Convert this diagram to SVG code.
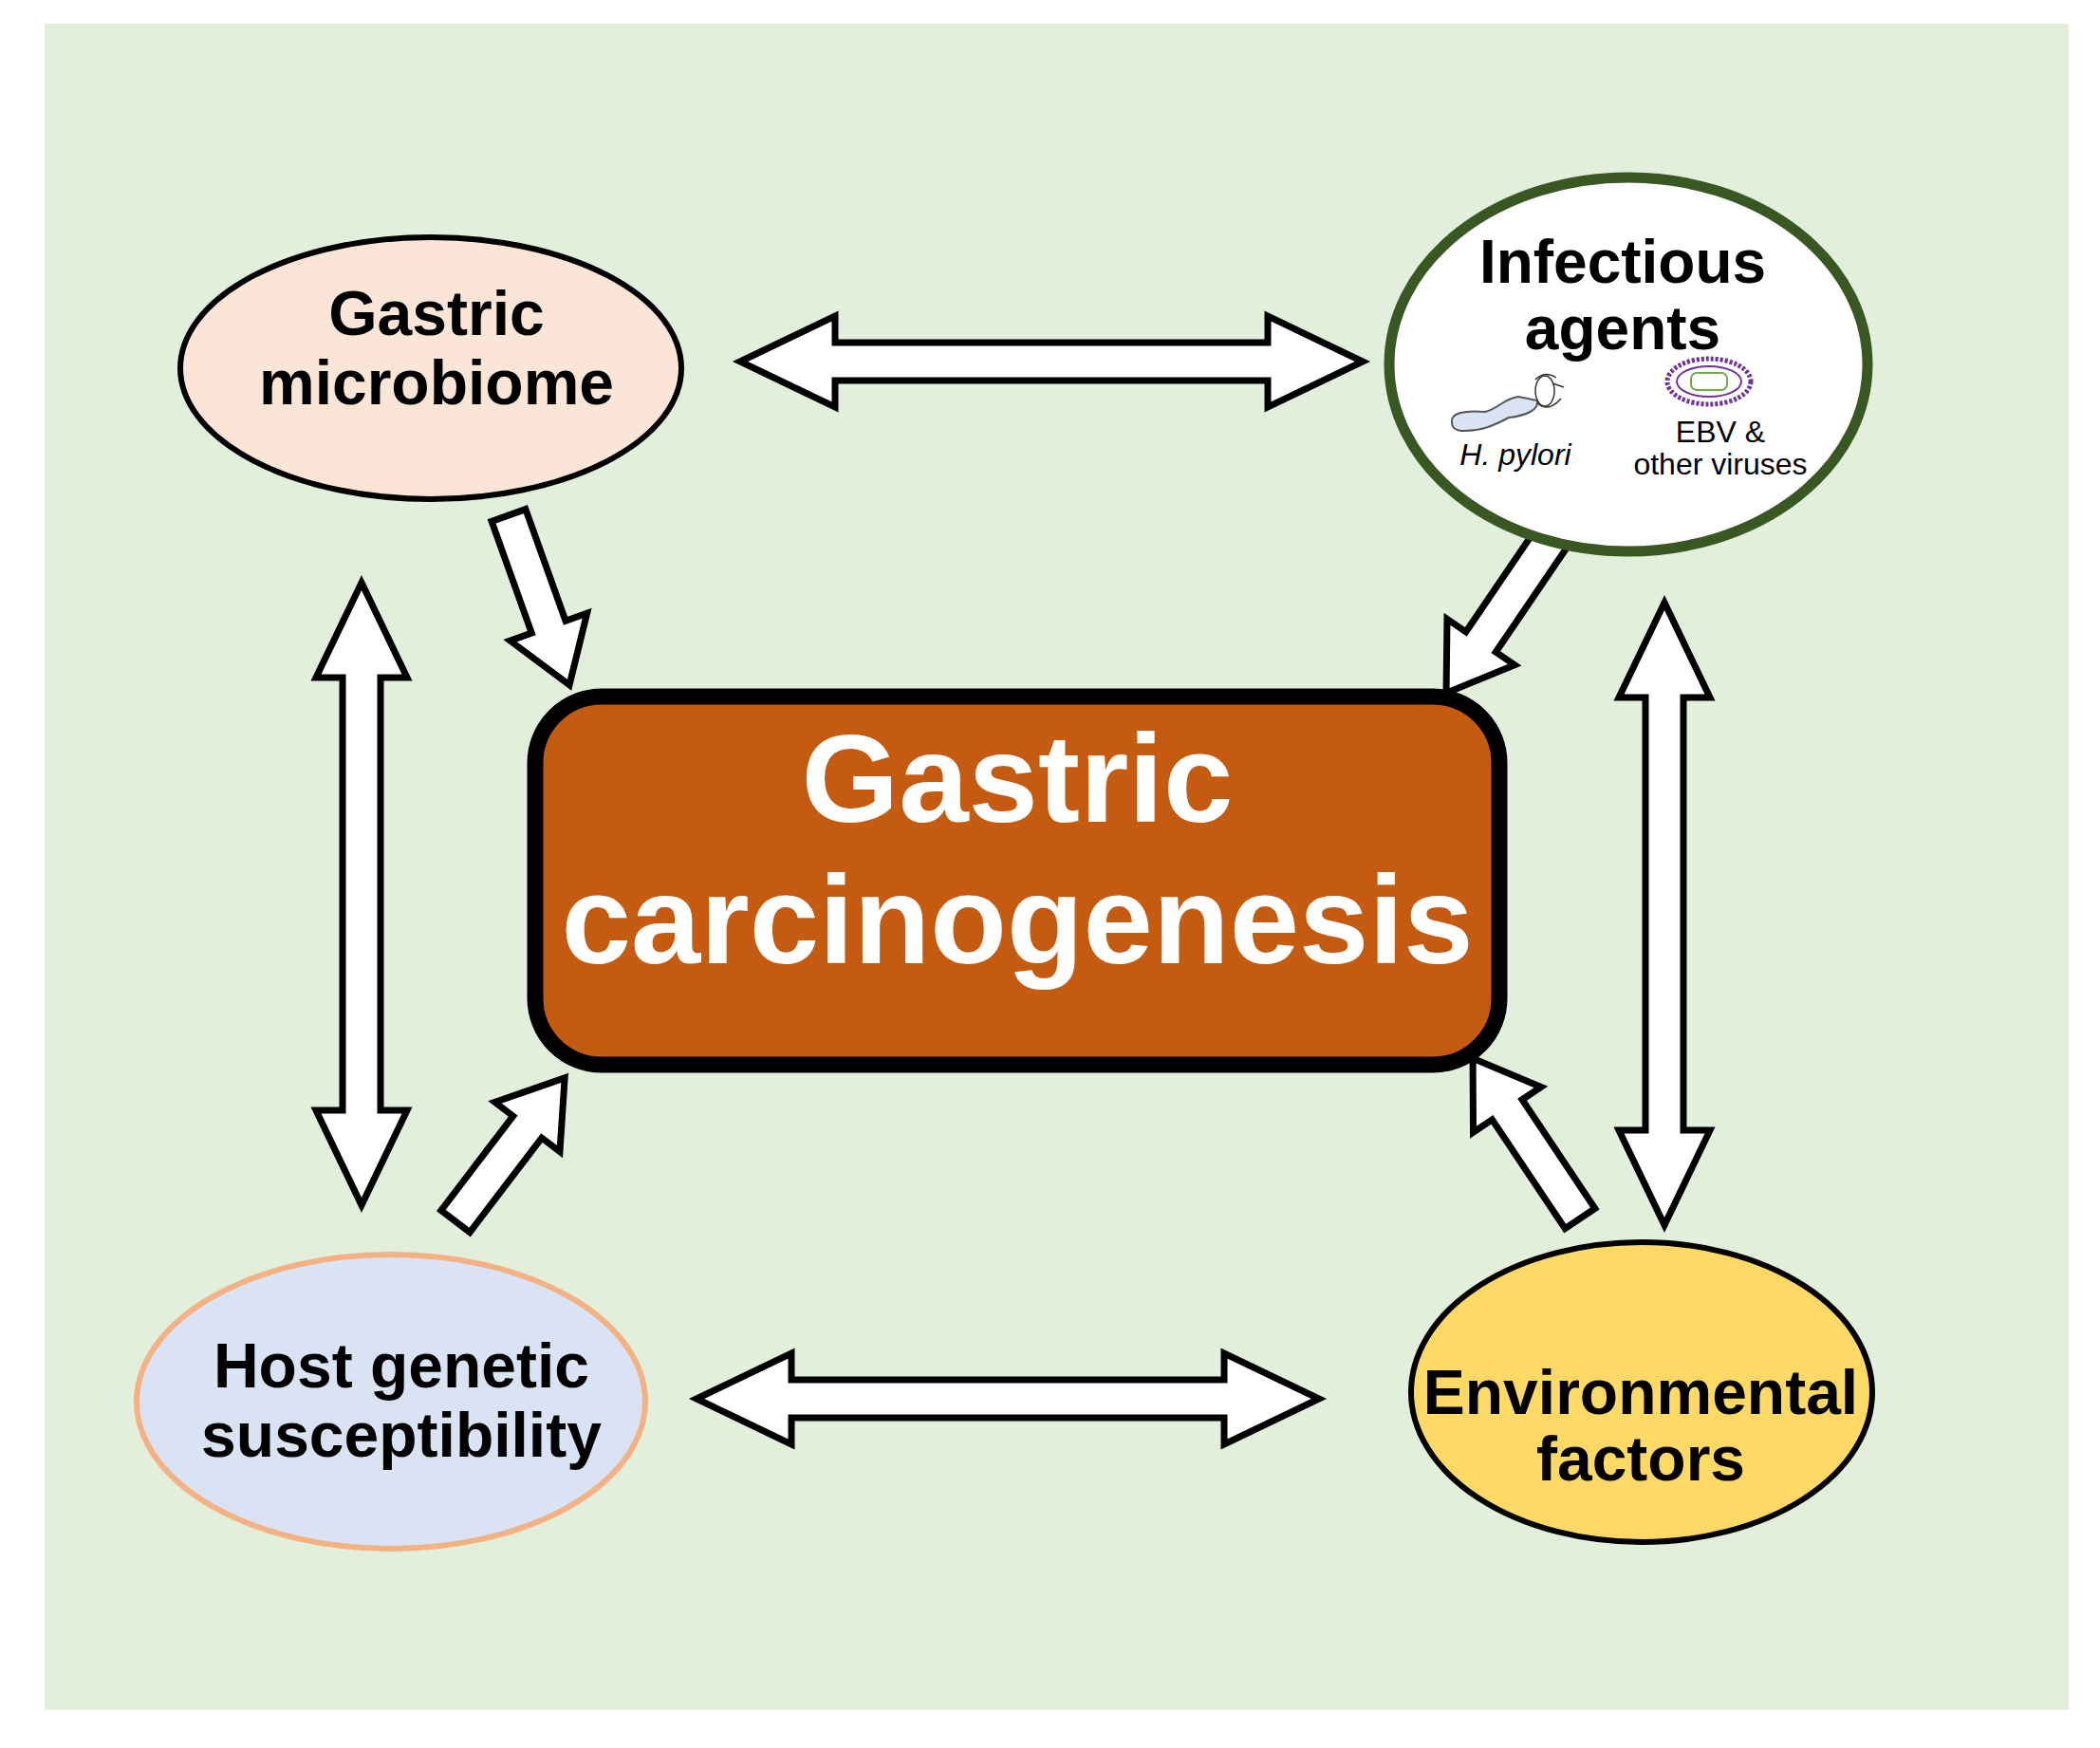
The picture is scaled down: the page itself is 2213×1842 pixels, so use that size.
<svg xmlns="http://www.w3.org/2000/svg" width="2213" height="1842" viewBox="0 0 2213 1842">
<style>
.arr{fill:#fff;stroke:#000;stroke-width:7;stroke-linejoin:miter}
.t{font-family:"Liberation Sans",Arial,sans-serif;font-weight:bold;text-anchor:middle;fill:#000}
.s{font-family:"Liberation Sans",Arial,sans-serif;text-anchor:middle;fill:#000;font-size:32px}
</style>
<rect width="2213" height="1842" fill="#fff"/>
<rect x="47" y="25" width="2133" height="1777" fill="#e2efda"/>
<g id="connectors">
<polygon class="arr" transform="translate(1108,381)" points="-328,0 -228,-48 -228,-20 228,-20 228,-48 328,0 228,48 228,20 -228,20 -228,48"/>
<polygon class="arr" transform="translate(1062,1474)" points="-328,0 -228,-48 -228,-20 228,-20 228,-48 328,0 228,48 228,20 -228,20 -228,48"/>
<polygon class="arr" transform="translate(381,942) rotate(90)" points="-328,0 -228,-48 -228,-20 228,-20 228,-48 328,0 228,48 228,20 -228,20 -228,48"/>
<polygon class="arr" transform="translate(1754,963) rotate(90)" points="-328,0 -228,-48 -228,-20 228,-20 228,-48 328,0 228,48 228,20 -228,20 -228,48"/>
<polygon class="arr" transform="translate(536,543) rotate(70.3)" points="0,-19 125,-19 125,-43 190,0 125,43 125,19 0,19"/>
<polygon class="arr" transform="translate(1637,564) rotate(124.2)" points="0,-19 136,-19 136,-43 201,0 136,43 136,19 0,19"/>
<polygon class="arr" transform="translate(480,1287) rotate(-52.7)" points="0,-19 125,-19 125,-43 190,0 125,43 125,19 0,19"/>
<polygon class="arr" transform="translate(1665,1284) rotate(-123.8)" points="0,-19 138,-19 138,-43 203,0 138,43 138,19 0,19"/>
</g>
<g id="center">
<rect x="564" y="734" width="1016" height="388" rx="70" fill="#c55a11" stroke="#000" stroke-width="17"/>
<text class="t" x="1072" y="866" font-size="132" style="fill:#fff">Gastric</text>
<text class="t" x="1072" y="1015" font-size="132" style="fill:#fff">carcinogenesis</text>
</g>
<g id="microbiome">
<ellipse cx="454" cy="388" rx="264" ry="138" fill="#fbe5d6" stroke="#000" stroke-width="6"/>
<text class="t" x="460" y="353" font-size="66">Gastric</text>
<text class="t" x="460" y="426" font-size="66">microbiome</text>
</g>
<g id="infectious">
<ellipse cx="1716" cy="384" rx="252" ry="197" fill="#fff" stroke="#385723" stroke-width="11"/>
<text class="t" x="1710" y="298" font-size="64">Infectious</text>
<text class="t" x="1710" y="368" font-size="64">agents</text>
<path d="M1530,445 C1528,435 1545,432 1565,434 C1580,430 1585,420 1600,418 L1620,422 C1622,432 1608,438 1590,440 C1575,448 1560,455 1540,454 C1532,453 1530,450 1530,445 Z" fill="#dae3f3" stroke="#555" stroke-width="2"/>
<ellipse cx="1628" cy="412" rx="10" ry="16" fill="none" stroke="#333" stroke-width="1.5"/>
<path d="M1618,400 Q1628,390 1640,398 M1620,425 Q1632,435 1645,420 M1636,404 L1648,408" fill="none" stroke="#333" stroke-width="1.5"/>
<ellipse cx="1801" cy="402" rx="44" ry="24" fill="#fff" stroke="#7030a0" stroke-width="5" stroke-dasharray="3 2"/>
<ellipse cx="1801" cy="402" rx="34" ry="16" fill="#fff" stroke="#7030a0" stroke-width="2"/>
<rect x="1782" y="393" width="38" height="18" rx="6" fill="none" stroke="#70ad47" stroke-width="2"/>
<text class="s" x="1597" y="490" font-style="italic">H. pylori</text>
<text class="s" x="1813" y="466">EBV &amp;</text>
<text class="s" x="1813" y="500">other viruses</text>
</g>
<g id="host">
<ellipse cx="412" cy="1477" rx="268" ry="155" fill="#dae3f3" stroke="#f4b183" stroke-width="6"/>
<text class="t" x="423" y="1462" font-size="66">Host genetic</text>
<text class="t" x="423" y="1535" font-size="66">susceptibility</text>
</g>
<g id="environmental">
<ellipse cx="1730" cy="1467" rx="243" ry="158" fill="#ffd966" stroke="#000" stroke-width="6"/>
<text class="t" x="1729" y="1490" font-size="66">Environmental</text>
<text class="t" x="1729" y="1560" font-size="66">factors</text>
</g>
</svg>
